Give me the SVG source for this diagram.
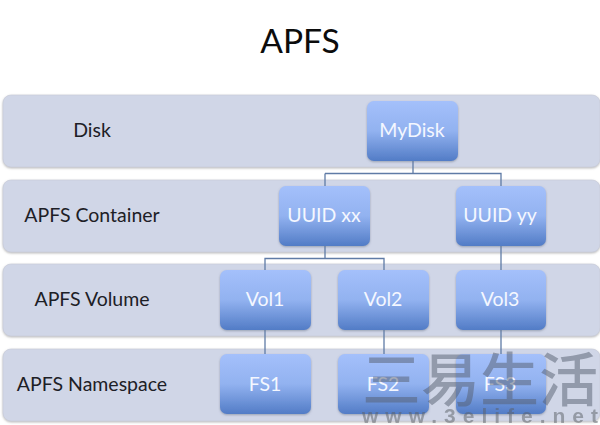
<svg xmlns="http://www.w3.org/2000/svg" width="600" height="425" viewBox="0 0 600 425">
<style>
text{font-family:Lato,"Liberation Sans",sans-serif;text-anchor:middle}
.band{fill:#d0d6e7;stroke:#c6cad6;stroke-width:.6;filter:url(#bs)}
.node{fill:url(#ng);filter:url(#ns)}
.nt{font-size:19.500px;fill:#f4f7ff}
.bt{font-size:19.500px;fill:#1d2026}
.c{fill:none;stroke:#5f7ba6;stroke-width:1.3}
.wm{fill:#565f70;opacity:.5;font-family:"Noto Sans CJK SC",sans-serif;font-weight:500;font-size:58px}
.wu{fill:#5a5f66;opacity:.5;font-family:"Liberation Sans",sans-serif;font-weight:700;font-size:21px}
</style>
<defs>
<linearGradient id="ng" x1="0" y1="0" x2="0" y2="1">
<stop offset="0" stop-color="#a4c0fb"/><stop offset=".5" stop-color="#92b2f0"/><stop offset="1" stop-color="#527cc6"/>
</linearGradient>
<filter id="ns" x="-10%" y="-10%" width="120%" height="125%"><feDropShadow dx="0" dy="1" stdDeviation="1" flood-color="#6a7488" flood-opacity=".55"/></filter>
<filter id="bs" x="-2%" y="-5%" width="104%" height="115%"><feDropShadow dx="0" dy="1" stdDeviation=".8" flood-color="#888" flood-opacity=".6"/></filter>
</defs>
<rect width="600" height="425" fill="#fff"/>
<text x="300" y="53" font-size="33.500" fill="#0c0c0c">APFS</text>
<g id="bands">
<g id="band-disk"><rect class="band" x="3" y="95" width="597" height="72" rx="8"/><text class="bt" x="92" y="137">Disk</text></g>
<g id="band-container"><rect class="band" x="3" y="180" width="597" height="72" rx="8"/><text class="bt" x="92" y="222">APFS Container</text></g>
<g id="band-volume"><rect class="band" x="3" y="264" width="597" height="72" rx="8"/><text class="bt" x="92" y="306">APFS Volume</text></g>
<g id="band-namespace"><rect class="band" x="3" y="349" width="597" height="72" rx="8"/><text class="bt" x="92" y="391">APFS Namespace</text></g>
</g>
<g id="connectors">
<path class="c" d="M413 161V173.500H325M413 173.500H501V186"/>
<path class="c" d="M325 173.500V186"/>
<path class="c" d="M325 246V258.500H265V270M325 258.500H384V270"/>
<path class="c" d="M501 246V270"/>
<path class="c" d="M265 330V354"/>
<path class="c" d="M384 330V354"/>
<path class="c" d="M501 330V354"/>
</g>
<g id="n-mydisk"><rect class="node" x="367" y="101" width="91" height="60" rx="7"/><text class="nt" x="412" y="137">MyDisk</text></g>
<g id="n-uuidxx"><rect class="node" x="279" y="186" width="91" height="60" rx="7"/><text class="nt" x="324" y="222">UUID xx</text></g>
<g id="n-uuidyy"><rect class="node" x="456" y="186" width="90" height="60" rx="7"/><text class="nt" x="500" y="222">UUID yy</text></g>
<g id="n-vol1"><rect class="node" x="220" y="270" width="91" height="60" rx="7"/><text class="nt" x="265" y="306">Vol1</text></g>
<g id="n-vol2"><rect class="node" x="338" y="270" width="91" height="60" rx="7"/><text class="nt" x="383" y="306">Vol2</text></g>
<g id="n-vol3"><rect class="node" x="456" y="270" width="90" height="60" rx="7"/><text class="nt" x="500" y="306">Vol3</text></g>
<g id="n-fs1"><rect class="node" x="220" y="354" width="91" height="60" rx="7"/><text class="nt" x="265" y="391">FS1</text></g>
<g id="n-fs2"><rect class="node" x="338" y="354" width="91" height="60" rx="7"/><text class="nt" x="383" y="391">FS2</text></g>
<g id="n-fs3"><rect class="node" x="456" y="354" width="90" height="60" rx="7"/><text class="nt" x="500" y="391">FS3</text></g>
<g id="watermark">
<text class="wm" x="480" y="401" textLength="236" lengthAdjust="spacingAndGlyphs">三易生活</text>
<text class="wu" x="480" y="423" textLength="236" lengthAdjust="spacing">www.3elife.net</text>
</g>
</svg>
